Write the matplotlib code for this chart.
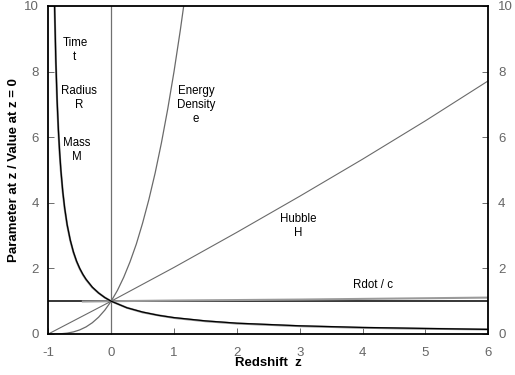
import matplotlib
matplotlib.use("Agg")
import matplotlib.pyplot as plt

# ---- data ----
z_R = [-0.9, -0.88, -0.86, -0.84, -0.82, -0.8, -0.77, -0.74, -0.7, -0.65, -0.6,
       -0.55, -0.5, -0.45, -0.4, -0.3, -0.2, -0.1, 0.0,
       0.25, 0.5, 0.75, 1.0, 1.5, 2.0, 2.5, 3.0, 4.0, 5.0, 6.0]
radius = [10.0, 8.33, 7.14, 6.25, 5.56, 5.0, 4.35, 3.85, 3.33, 2.86, 2.5,
          2.22, 2.0, 1.82, 1.67, 1.43, 1.25, 1.11, 1.0,
          0.8, 0.67, 0.57, 0.5, 0.4, 0.33, 0.29, 0.25, 0.2, 0.17, 0.14]
time_t = [10.0, 8.3, 7.1, 6.22, 5.53, 4.98, 4.33, 3.83, 3.32, 2.85, 2.49,
          2.21, 1.99, 1.81, 1.66, 1.42, 1.25, 1.11, 1.0,
          0.8, 0.66, 0.57, 0.49, 0.39, 0.32, 0.28, 0.24, 0.19, 0.16, 0.14]

z_mass = [-1.0, 6.0]
mass = [1.0, 1.0]

z_e = [-1.0, -0.9, -0.8, -0.7, -0.6, -0.5, -0.4, -0.3, -0.2, -0.1, 0.0,
       0.1, 0.2, 0.3, 0.4, 0.5, 0.6, 0.7, 0.8, 0.9, 1.0, 1.1, 1.154]
energy = [0.0, 0.001, 0.008, 0.027, 0.064, 0.125, 0.216, 0.343, 0.512, 0.729, 1.0,
          1.33, 1.73, 2.20, 2.74, 3.38, 4.10, 4.91, 5.83, 6.86, 8.0, 9.26, 10.0]

z_H = [-1.0, 0.0, 1.0, 2.0, 3.0, 4.0, 5.0, 6.0]
hubble = [0.0, 1.0, 2.03, 3.1, 4.2, 5.33, 6.5, 7.72]

z_Rdot = [-0.45, 0.0, 1.0, 2.0, 3.0, 4.0, 5.0, 6.0]
rdot = [0.99, 1.0, 1.02, 1.035, 1.05, 1.07, 1.09, 1.11]

x_ticks = [-1, 0, 1, 2, 3, 4, 5, 6]
y_ticks = [0, 2, 4, 6, 8, 10]

labels = [("Time\nt", -0.577, 8.66),
          ("Radius\nR", -0.514, 7.20),
          ("Mass\nM", -0.545, 5.61),
          ("Energy\nDensity\ne", 1.35, 6.98),
          ("Hubble\nH", 2.98, 3.29),
          ("Rdot / c", 4.16, 1.49)]

# ---- figure ----
plt.rcParams['font.family'] = ['Liberation Sans', 'DejaVu Sans']
fig = plt.figure(figsize=(5.15, 3.75), dpi=100)
ax = fig.add_axes([48.3 / 515, 1 - 334 / 375, (488.3 - 48.3) / 515, (334 - 6) / 375])

ax.axvline(0, color='#707070', lw=0.9)
ax.plot(z_mass, mass, color='black', lw=1.1)
ax.plot(z_Rdot, rdot, color='#9a9a9a', lw=1.5)
ax.plot(z_H, hubble, color='#6a6a6a', lw=0.8)
ax.plot(z_e, energy, color='#6a6a6a', lw=0.9)
ax.plot(z_R, time_t, color='#8a8a8a', lw=1.5)
ax.plot(z_R, radius, color='black', lw=0.9)

for txt, x, y in labels:
    ax.text(x, y, txt, ha='center', va='center', fontsize=8.3,
            linespacing=1.2, color='black')

ax.set_xlim(-1, 6)
ax.set_ylim(0, 10)
ax.set_xticks(x_ticks)
ax.set_xticklabels([str(v) for v in x_ticks])
ax.set_yticks(y_ticks)
ax.set_yticklabels([str(v) for v in y_ticks])
ax.tick_params(axis='both', direction='in', length=4, width=0.6,
               color='#555555', labelcolor='#666666', labelsize=9.5)
ax.tick_params(axis='x', pad=9)
ax.tick_params(axis='y', pad=7, right=True, labelright=True)
for s in ax.spines.values():
    s.set_linewidth(1.3)
    s.set_color('black')

ax.set_xlabel("Redshift  z", fontsize=9.5, fontweight='bold', labelpad=-1)
ax.set_ylabel("Parameter at z / Value at z = 0", fontsize=9.5,
              fontweight='bold', labelpad=3)

fig.savefig("out.png", dpi=100)
